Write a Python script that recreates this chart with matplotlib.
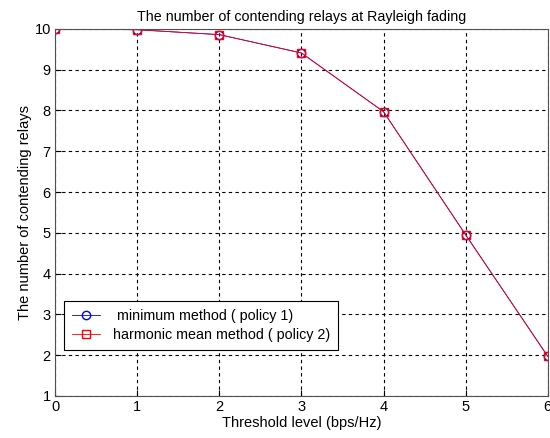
import numpy as np
from matplotlib import pyplot as plt

plt.rcParams['font.family'] = ['Liberation Sans', 'DejaVu Sans']

threshold = [0, 1, 2, 3, 4, 5, 6]
relays_min = [10.0, 9.98, 9.86, 9.41, 7.97, 4.95, 1.97]
relays_harm = [10.0, 9.98, 9.86, 9.41, 7.97, 4.95, 1.97]

fig = plt.figure(figsize=(5.5, 4.38), dpi=100)
ax = fig.add_axes([0.1, 0.096, 0.896, 0.838])

ax.plot(threshold, relays_min, color='blue', marker='o', markersize=6,
        markerfacecolor='none', linewidth=0.6, label=' minimum method ( policy 1)')
ax.plot(threshold, relays_harm, color='red', marker='s', markersize=6,
        markerfacecolor='none', linewidth=0.6, label='harmonic mean method ( policy 2)')

ax.set_xlim(0, 6)
ax.set_ylim(1, 10)
ax.set_xticks(range(0, 7))
ax.set_yticks(range(1, 11))
ax.grid(True, color='black', linestyle=(0, (3, 3)), linewidth=0.8)
ax.tick_params(direction='in', labelsize=10.5, length=4, pad=3)
for s in ax.spines.values():
    s.set_color('#505050')

ax.set_title('The number of contending relays at Rayleigh fading', fontsize=10.3, pad=6)
ax.set_xlabel('Threshold level (bps/Hz)', fontsize=10.5, labelpad=1)
ax.set_ylabel('The number of contending relays', fontsize=10.5, labelpad=2)

leg = ax.legend(loc='lower left', bbox_to_anchor=(0.018, 0.125), fontsize=10.3,
                fancybox=False, framealpha=1, edgecolor='black',
                borderpad=0.55, labelspacing=0.35, handlelength=2.0,
                handletextpad=0.9, borderaxespad=0)
leg.get_frame().set_linewidth(0.8)

fig.savefig('out.png', dpi=100)
